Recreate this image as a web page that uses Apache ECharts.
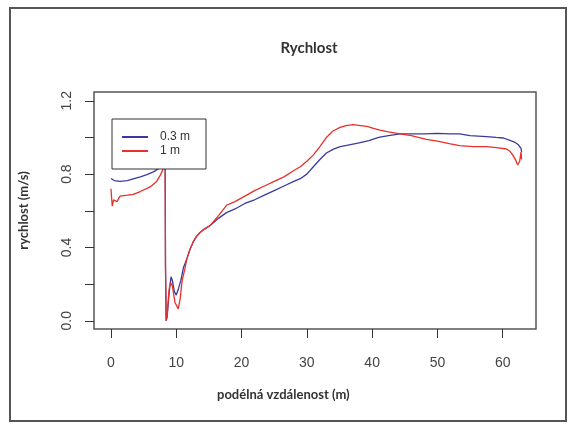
<!DOCTYPE html>
<html>
<head>
<meta charset="utf-8">
<script src="https://cdn.jsdelivr.net/npm/echarts@6/dist/echarts.min.js"></script>
<style>
html, body { margin: 0; padding: 0; background: #fff; }
#main { width: 571px; height: 424px; }
</style>
</head>
<body>
<div id="main"></div>
<script>
// osa x - podélná vzdálenost (m), osa y - rychlost (m/s)
var xTicks = [0, 10, 20, 30, 40, 50, 60];
var yTicks = [0, 0.2, 0.4, 0.6, 0.8, 1.0, 1.2];
var yLabels = [0, 0.4, 0.8, 1.2];

// 0.3 m
var xBlue = [0, 0.5, 1.4, 2.5, 3.4, 4.5, 5.5, 6.5, 7.3, 8.0, 8.2, 8.3, 8.35, 8.45, 8.6, 8.9, 9.2, 9.4, 9.7, 10.0, 10.3, 10.7, 11.1, 11.6, 12.1, 12.6, 13.1, 13.6, 14.3, 15.2, 16.5, 17.7, 19, 20.5, 22, 23.5, 25, 26.5, 28, 29, 30, 31, 32, 33, 34, 35.1, 36.5, 38, 39.5, 41, 42.5, 44.3, 46, 48, 50, 52, 53.4, 55, 57.5, 59, 60.1, 61, 61.8, 62.4, 62.8, 62.9];
var yBlue = [0.776, 0.765, 0.76, 0.765, 0.774, 0.785, 0.797, 0.812, 0.83, 0.85, 0.86, 0.88, 0.3, 0.0, 0.02, 0.15, 0.24, 0.22, 0.16, 0.14, 0.17, 0.22, 0.29, 0.335, 0.39, 0.43, 0.46, 0.48, 0.5, 0.52, 0.56, 0.59, 0.61, 0.64, 0.66, 0.685, 0.71, 0.735, 0.76, 0.775, 0.80, 0.84, 0.88, 0.915, 0.935, 0.95, 0.96, 0.97, 0.983, 1.0, 1.01, 1.02, 1.02, 1.02, 1.022, 1.02, 1.02, 1.01, 1.005, 1.0, 0.997, 0.985, 0.975, 0.96, 0.94, 0.92];

// 1 m
var xRed = [0, 0.1, 0.2, 0.4, 0.9, 1.4, 2.5, 3.4, 4.5, 6, 7, 7.5, 8.0, 8.2, 8.3, 8.35, 8.45, 8.6, 8.9, 9.1, 9.4, 9.8, 10.3, 10.6, 10.9, 11.3, 11.6, 12.1, 12.6, 13.1, 13.6, 14.3, 15.2, 16.5, 17.7, 19, 20.5, 22, 23.5, 25, 26.5, 28, 29, 30, 31, 32, 33, 34, 35.1, 36, 37.1, 38.2, 39.2, 40.2, 41.2, 42.5, 44.3, 46, 48.3, 50, 52, 53.4, 55.5, 57.5, 59, 60.6, 61.1, 61.5, 62, 62.3, 62.6, 62.8, 62.9];
var yRed = [0.72, 0.67, 0.625, 0.66, 0.65, 0.68, 0.685, 0.69, 0.705, 0.73, 0.76, 0.79, 0.83, 0.85, 0.87, 0.3, 0.0, 0.03, 0.17, 0.21, 0.19, 0.1, 0.065, 0.12, 0.22, 0.28, 0.335, 0.39, 0.43, 0.46, 0.48, 0.5, 0.52, 0.575, 0.63, 0.65, 0.68, 0.71, 0.735, 0.76, 0.785, 0.82, 0.84, 0.87, 0.905, 0.95, 1.0, 1.035, 1.055, 1.065, 1.07, 1.065, 1.06, 1.05, 1.04, 1.03, 1.02, 1.01, 0.99, 0.98, 0.965, 0.955, 0.95, 0.95, 0.945, 0.937, 0.925, 0.906, 0.875, 0.85, 0.87, 0.92, 0.88];

function zip(a, b) {
    var out = [];
    for (var i = 0; i < a.length; i++) {
        out.push([a[i], b[i]]);
    }
    return out;
}

var myChart = echarts.init(document.getElementById('main'));
var option = {
    animation: false,
    backgroundColor: '#fff',
    title: {
        text: 'Rychlost',
        left: 304,
        top: 36,
        textAlign: 'center',
        textStyle: { fontFamily: 'Lato', fontWeight: 'bold', fontSize: 15, color: '#333' }
    },
    legend: {
        orient: 'vertical',
        left: 112,
        top: 119,
        padding: [12, 16, 12, 10],
        itemGap: 2,
        itemWidth: 26,
        itemHeight: 2,
        icon: 'rect',
        backgroundColor: '#fff',
        borderColor: '#333',
        borderWidth: 1,
        borderRadius: 0,
        textStyle: { fontFamily: 'Liberation Sans', fontSize: 12, color: '#333', lineHeight: 12, padding: [0, 0, 0, 7] },
        data: ['0.3 m', '1 m']
    },
    grid: {
        left: 94,
        top: 92,
        right: 35,
        bottom: 95,
        containLabel: false,
        show: true,
        borderColor: '#555',
        borderWidth: 1.5
    },
    xAxis: {
        type: 'value',
        min: -2.6,
        max: 65.1,
        axisLine: { show: false, onZero: false },
        splitLine: { show: false },
        axisTick: { show: true, inside: false, length: 9, customValues: xTicks, lineStyle: { color: '#333' } },
        axisLabel: { customValues: xTicks, margin: 27, fontFamily: 'Liberation Sans', fontSize: 14, color: '#444' }
    },
    yAxis: {
        type: 'value',
        min: -0.045,
        max: 1.248,
        name: 'rychlost (m/s)',
        nameLocation: 'middle',
        nameGap: 64,
        nameTextStyle: { fontFamily: 'Lato', fontWeight: 'bold', fontSize: 13, color: '#333' },
        axisLine: { show: false, onZero: false },
        splitLine: { show: false },
        axisTick: { show: true, inside: false, length: 9, customValues: yTicks, lineStyle: { color: '#333' } },
        axisLabel: {
            customValues: yLabels,
            rotate: 90,
            margin: 20,
            fontFamily: 'Liberation Sans',
            fontSize: 14,
            color: '#444',
            formatter: function (v) { return v.toFixed(1); }
        }
    },
    graphic: [
        {
            type: 'rect',
            shape: { x: 10, y: 8, width: 556, height: 413 },
            style: { fill: 'none', stroke: '#555', lineWidth: 2 },
            silent: true
        },
        {
            type: 'text',
            left: 217,
            top: 388,
            style: { text: 'podélná vzdálenost (m)', fontFamily: 'Lato', fontWeight: 'bold', fontSize: 13, fill: '#333' }
        }
    ],
    series: [
        {
            name: '0.3 m',
            type: 'line',
            data: zip(xBlue, yBlue),
            showSymbol: false,
            symbol: 'none',
            itemStyle: { color: '#3a3a9e' },
            lineStyle: { color: '#3a3a9e', width: 1.3 }
        },
        {
            name: '1 m',
            type: 'line',
            data: zip(xRed, yRed),
            showSymbol: false,
            symbol: 'none',
            itemStyle: { color: '#e8302a' },
            lineStyle: { color: '#e8302a', width: 1.3 }
        }
    ]
};
myChart.setOption(option);
</script>
</body>
</html>
